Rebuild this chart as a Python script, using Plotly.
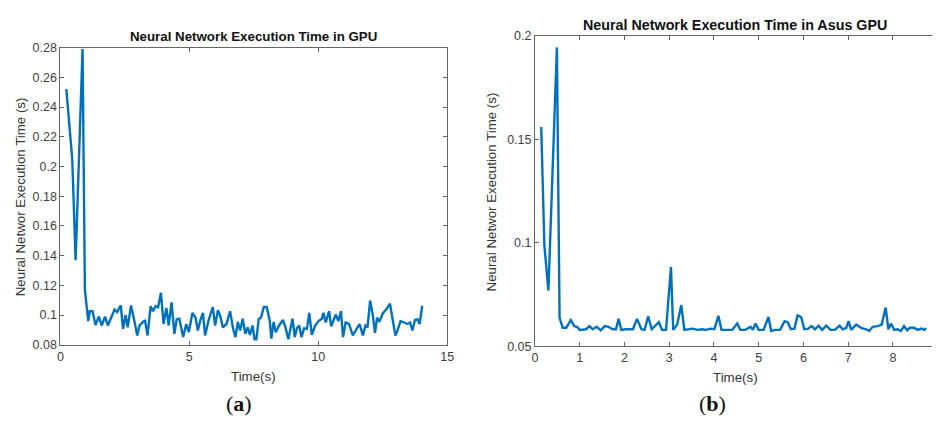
import plotly.graph_objects as go

# ---- Data: (a) Neural network execution time in GPU ----
time_a = [0.23, 0.46, 0.59, 0.86, 0.95, 1.08, 1.14, 1.25, 1.36, 1.49, 1.6, 1.73, 1.84, 1.97, 2.1, 2.2,
          2.34, 2.43, 2.53, 2.61, 2.74, 2.87, 2.98, 3.07, 3.19, 3.28, 3.38, 3.5, 3.59, 3.69, 3.79, 3.9,
          4.0, 4.11, 4.2, 4.31, 4.42, 4.51, 4.61, 4.76, 4.88, 4.98, 5.12, 5.24, 5.33, 5.43, 5.53, 5.61,
          5.75, 5.91, 6.0, 6.11, 6.2, 6.3, 6.44, 6.58, 6.7, 6.79, 6.88, 6.97, 7.07, 7.17, 7.26, 7.35,
          7.45, 7.53, 7.6, 7.69, 7.78, 7.89, 8.0, 8.12, 8.18, 8.27, 8.35, 8.48, 8.63, 8.73, 8.84, 9.0,
          9.09, 9.17, 9.26, 9.35, 9.45, 9.56, 9.65, 9.75, 9.88, 10.01, 10.14, 10.2, 10.29, 10.42, 10.5,
          10.6, 10.68, 10.78, 10.88, 10.96, 11.06, 11.19, 11.34, 11.45, 11.6, 11.73, 11.83, 11.91, 12.01,
          12.11, 12.2, 12.28, 12.37, 12.5, 12.63, 12.78, 12.88, 12.99, 13.07, 13.19, 13.33, 13.46, 13.56,
          13.65, 13.75, 13.85, 13.93, 14.03]
exec_a = [0.252, 0.205, 0.137, 0.279, 0.117, 0.096, 0.1026, 0.1026, 0.0933, 0.099, 0.093, 0.099, 0.093,
          0.099, 0.1037, 0.102, 0.1065, 0.0907, 0.1, 0.0917, 0.1065, 0.096, 0.0863, 0.093, 0.0954, 0.0967,
          0.0863, 0.106, 0.1026, 0.106, 0.1052, 0.115, 0.094, 0.1048, 0.093, 0.1085, 0.0874, 0.0972, 0.0976,
          0.0852, 0.094, 0.0885, 0.1015, 0.0983, 0.0896, 0.0967, 0.1015, 0.0863, 0.0967, 0.1054, 0.093,
          0.1033, 0.0993, 0.0917, 0.094, 0.1026, 0.0907, 0.0852, 0.0954, 0.0896, 0.0976, 0.0874, 0.0917,
          0.0867, 0.093, 0.0837, 0.0837, 0.0972, 0.0983, 0.1054, 0.1054, 0.096, 0.0841, 0.0954, 0.0885,
          0.093, 0.0967, 0.0917, 0.0837, 0.0976, 0.0852, 0.0911, 0.093, 0.0852, 0.0911, 0.0907, 0.1015,
          0.0867, 0.093, 0.096, 0.0976, 0.1015, 0.095, 0.1026, 0.0924, 0.0972, 0.1004, 0.096, 0.1026, 0.0852,
          0.095, 0.094, 0.0863, 0.0896, 0.094, 0.0863, 0.093, 0.0917, 0.1098, 0.1004, 0.088, 0.0983, 0.0954,
          0.1011, 0.1037, 0.1076, 0.0972, 0.0863, 0.0896, 0.096, 0.095, 0.094, 0.095, 0.0896, 0.0967, 0.0972,
          0.094, 0.1063]

# ---- Data: (b) Neural network execution time in Asus GPU ----
time_b = [0.14, 0.21, 0.3, 0.49, 0.55, 0.62, 0.7, 0.8, 0.88, 0.94, 1.0, 1.07, 1.14, 1.22, 1.29, 1.38,
          1.47, 1.56, 1.64, 1.74, 1.81, 1.87, 1.93, 2.03, 2.12, 2.19, 2.28, 2.38, 2.45, 2.53, 2.61, 2.68,
          2.77, 2.84, 2.93, 3.04, 3.09, 3.18, 3.27, 3.34, 3.43, 3.52, 3.63, 3.73, 3.83, 3.92, 4.01, 4.1,
          4.17, 4.3, 4.41, 4.52, 4.59, 4.7, 4.82, 4.87, 4.93, 5.0, 5.11, 5.22, 5.28, 5.37, 5.48, 5.58,
          5.65, 5.72, 5.8, 5.87, 5.95, 6.02, 6.11, 6.18, 6.26, 6.34, 6.42, 6.51, 6.61, 6.7, 6.81, 6.88,
          6.96, 7.01, 7.07, 7.18, 7.29, 7.4, 7.47, 7.55, 7.66, 7.75, 7.84, 7.9, 7.96, 8.03, 8.1, 8.18,
          8.25, 8.32, 8.38, 8.47, 8.56, 8.63, 8.71, 8.74]
exec_b = [0.156, 0.099, 0.077, 0.1945, 0.0638, 0.059, 0.059, 0.0627, 0.0598, 0.0595, 0.058, 0.058, 0.0583,
          0.0598, 0.0583, 0.0595, 0.0578, 0.0598, 0.0595, 0.0583, 0.0583, 0.0634, 0.058, 0.0583, 0.0583,
          0.0583, 0.0633, 0.0583, 0.058, 0.0645, 0.0583, 0.0598, 0.0617, 0.058, 0.058, 0.0884, 0.058, 0.0606,
          0.07, 0.058, 0.0583, 0.0586, 0.058, 0.0583, 0.058, 0.0586, 0.0583, 0.0648, 0.058, 0.058, 0.058,
          0.0611, 0.058, 0.058, 0.0595, 0.058, 0.0611, 0.058, 0.058, 0.0642, 0.0575, 0.058, 0.058, 0.0622,
          0.0617, 0.0583, 0.0586, 0.065, 0.0642, 0.0583, 0.0586, 0.0598, 0.0583, 0.06, 0.058, 0.06, 0.058,
          0.058, 0.06, 0.0583, 0.059, 0.0622, 0.058, 0.0606, 0.059, 0.0583, 0.0575, 0.0595, 0.0598, 0.0606,
          0.0688, 0.0583, 0.0611, 0.058, 0.0583, 0.0575, 0.0598, 0.0578, 0.059, 0.059, 0.058, 0.0586, 0.058,
          0.059]

xticks_a = [0, 5, 10, 15]
yticks_a = [0.08, 0.1, 0.12, 0.14, 0.16, 0.18, 0.2, 0.22, 0.24, 0.26, 0.28]
xticks_b = [0, 1, 2, 3, 4, 5, 6, 7, 8]
yticks_b = [0.05, 0.1, 0.15, 0.2]

LINE = "#0072BD"
AX = "#666666"
TICKF = dict(family="Liberation Sans, Arial, sans-serif", size=12.5, color="#404040")

fig = go.Figure()
fig.add_trace(go.Scatter(x=time_a, y=exec_a, mode="lines", line=dict(color=LINE, width=2.4),
                         xaxis="x", yaxis="y", showlegend=False))
fig.add_trace(go.Scatter(x=time_b, y=exec_b, mode="lines", line=dict(color=LINE, width=2.4),
                         xaxis="x2", yaxis="y2", showlegend=False))

common = dict(showgrid=False, zeroline=False, showline=True, linecolor=AX, linewidth=1,
              ticks="inside", ticklen=4, tickcolor=AX, tickfont=TICKF)

fig.update_layout(
    width=939, height=425,
    margin=dict(l=0, r=0, t=0, b=0),
    paper_bgcolor="white", plot_bgcolor="white",
    xaxis=dict(domain=[58/939, 449/939], range=[0, 15], tickvals=xticks_a, mirror="ticks",
               anchor="y", **common),
    yaxis=dict(domain=[1-349.3/425, 1-42/425], range=[0.08, 0.28], tickvals=yticks_a,
               ticktext=[("%g" % v) for v in yticks_a], mirror="ticks", anchor="x", **common),
    xaxis2=dict(domain=[537.7/939, 1.0], range=[0, 8.875], tickvals=xticks_b, mirror="ticks",
                anchor="y2", **common),
    yaxis2=dict(domain=[1-351/425, 1-30/425], range=[0.05, 0.2], tickvals=yticks_b,
                ticktext=[("%g" % v) for v in yticks_b], mirror=False, anchor="x2", **common),
)

title_font = dict(family="Liberation Sans, Arial, sans-serif", size=13.3, color="#111111")
title_font_b = dict(family="Liberation Sans, Arial, sans-serif", size=14.3, color="#111111")
lab_font = dict(family="Liberation Sans, Arial, sans-serif", size=13.3, color="#333333")
panel_font = dict(family="Liberation Serif, DejaVu Serif, serif", size=22, color="#111111")

anns = [
    dict(text="<b>Neural Network Execution Time in GPU</b>", x=253, y=30, font=title_font),
    dict(text="<b>Neural Network Execution Time in Asus GPU</b>", x=740, y=19, font=title_font_b),
    dict(text="Time(s)", x=253, y=382, font=lab_font),
    dict(text="Time(s)", x=740, y=383, font=lab_font),
    dict(text="Neural Networ Execution Time (s)", x=18, y=196, font=lab_font, textangle=-90),
    dict(text="Neural Networ Execution Time (s)", x=494, y=191, font=lab_font, textangle=-90),
    dict(text="(<b>a</b>)", x=239, y=410, font=panel_font),
    dict(text="(<b>b</b>)", x=717, y=410, font=panel_font),
]
for a in anns:
    fig.add_annotation(text=a["text"], x=a["x"]/939, y=1-a["y"]/425, xref="paper", yref="paper",
                       showarrow=False, xanchor="center", yanchor="middle", font=a["font"],
                       textangle=a.get("textangle", 0))

fig.write_html("out.html")
